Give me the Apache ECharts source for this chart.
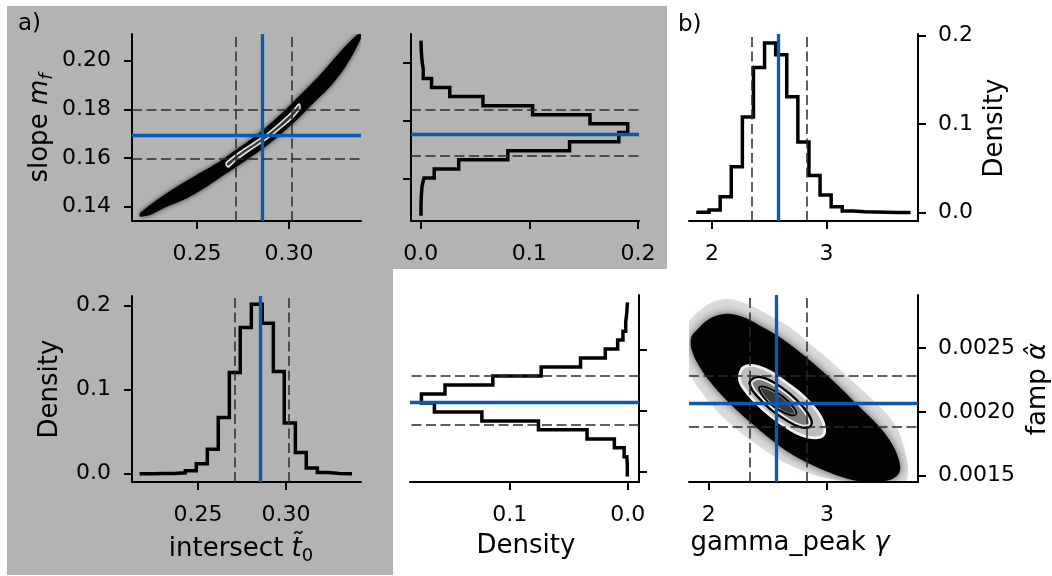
<!DOCTYPE html>
<html>
<head>
<meta charset="utf-8">
<script src="https://cdn.jsdelivr.net/npm/echarts@6/dist/echarts.min.js"></script>
<style>
  html, body { margin: 0; padding: 0; background: #fff; }
  #chart { width: 1052px; height: 576px; }
</style>
</head>
<body>
<div id="chart"></div>
<script>
// ---------- marginal histograms (bin edges and normalised bin weights) ----------
const intersectEdges = [0.2178, 0.2240, 0.2303, 0.2365, 0.2428, 0.2490, 0.2553, 0.2615, 0.2678, 0.2740,
                        0.2803, 0.2865, 0.2928, 0.2990, 0.3053, 0.3115, 0.3178, 0.3240, 0.3303, 0.3365];
const intersectDensity = [0.0001, 0.0002, 0.0004, 0.0012, 0.0036, 0.0119, 0.0292, 0.0668, 0.1202, 0.1735,
                          0.2012, 0.1787, 0.1213, 0.0601, 0.0253, 0.0067, 0.0016, 0.0004, 0.0001];

const slopeEdges = [0.1350, 0.1389, 0.1428, 0.1467, 0.1505, 0.1544, 0.1583, 0.1622, 0.1661, 0.1700,
                    0.1738, 0.1777, 0.1816, 0.1855, 0.1894, 0.1933, 0.1971, 0.2010, 0.2049, 0.2088];
const slopeDensity = [0.0003, 0.0006, 0.0012, 0.0030, 0.0125, 0.0350, 0.0802, 0.1370, 0.1823, 0.1905,
                      0.1558, 0.1030, 0.0573, 0.0268, 0.0100, 0.0024, 0.0012, 0.0006, 0.0003];

const gammaEdges = [1.8775, 1.9745, 2.0715, 2.1686, 2.2656, 2.3626, 2.4596, 2.5566, 2.6537, 2.7507,
                    2.8477, 2.9447, 3.0417, 3.1388, 3.2358, 3.3328, 3.4298, 3.5268, 3.6239, 3.7209];
const gammaDensity = [0.0004, 0.0030, 0.0180, 0.0520, 0.1080, 0.1640, 0.1917, 0.1785, 0.1310, 0.0800,
                      0.0420, 0.0200, 0.0068, 0.0019, 0.0010, 0.0007, 0.0005, 0.0003, 0.0002];

const fampEdges = [0.001477, 0.001551, 0.001624, 0.001698, 0.001771, 0.001845, 0.001918, 0.001992, 0.002065, 0.002139,
                   0.002212, 0.002286, 0.002359, 0.002433, 0.002506, 0.002580, 0.002653, 0.002727, 0.002800, 0.002874];
const fampDensity = [0.0003, 0.0007, 0.0030, 0.0113, 0.0345, 0.0757, 0.1237, 0.1640, 0.1750, 0.1550,
                     0.1144, 0.0734, 0.0400, 0.0190, 0.0085, 0.0040, 0.0017, 0.0008, 0.0003];

// ---------- reference values (solid) and 16th / 84th percentiles (dashed) ----------
const intersectTruth = 0.2854, intersectQuantiles = [0.2710, 0.3014];
const slopeTruth = 0.1693,     slopeQuantiles = [0.1599, 0.1797];
const gammaTruth = 2.575,      gammaQuantiles = [2.344, 2.826];
const fampTruth = 0.00207,     fampQuantiles = [0.001884, 0.002288];

// ---------- tick values ----------
const intersectTicks = [0.25, 0.30];
const slopeTicks = [0.14, 0.16, 0.18, 0.20];
const slopeHistTicks = [0.15, 0.175, 0.20];
const densityTicks = [0.0, 0.1, 0.2];
const fampDensityTicks = [0.0, 0.1];
const gammaTicks = [2, 3];
const fampTicks = [0.0015, 0.0020, 0.0025];

// ---------- 2-D posterior regions: sample cloud outlines and contour levels ----------
const bandOutline = [
  [0.2190, 0.1373], [0.2281, 0.1427], [0.2390, 0.1482], [0.2498, 0.1530], [0.2607, 0.1578],
  [0.2697, 0.1626], [0.2788, 0.1674], [0.2879, 0.1729], [0.2969, 0.1790], [0.3060, 0.1859],
  [0.3151, 0.1928], [0.3223, 0.1989], [0.3295, 0.2051], [0.3368, 0.2106], [0.3395, 0.2113],
  [0.3395, 0.2099], [0.3350, 0.2030], [0.3295, 0.1962], [0.3223, 0.1893], [0.3132, 0.1825],
  [0.3042, 0.1756], [0.2951, 0.1695], [0.2860, 0.1640], [0.2770, 0.1592], [0.2661, 0.1537],
  [0.2553, 0.1482], [0.2444, 0.1434], [0.2335, 0.1400], [0.2245, 0.1366], [0.2190, 0.1359]
];
const bandCore = [
  [0.26576, 0.15795], [0.27337, 0.16247], [0.28152, 0.16658], [0.28859, 0.17028], [0.29511, 0.17439],
  [0.30163, 0.17892], [0.30543, 0.18220], [0.30598, 0.18056], [0.30054, 0.17563], [0.29402, 0.17152],
  [0.28696, 0.16741], [0.27880, 0.16330], [0.27120, 0.15919], [0.26685, 0.15631]
];
const blobHalo = [
  [1.8394, 0.002719], [1.9803, 0.002836], [2.1494, 0.002889], [2.3184, 0.002849], [2.4875, 0.002771],
  [2.6847, 0.002666], [2.8538, 0.002536], [3.0228, 0.002405], [3.1919, 0.002262], [3.3610, 0.002118],
  [3.5018, 0.001987], [3.6004, 0.001857], [3.6568, 0.001700], [3.6850, 0.001543], [3.6568, 0.001452],
  [3.2764, 0.001446], [3.0792, 0.001465], [2.8538, 0.001517], [2.6283, 0.001608], [2.4311, 0.001726],
  [2.2479, 0.001857], [2.0789, 0.002000], [1.9380, 0.002157], [1.8253, 0.002327], [1.7830, 0.002510],
  [1.7887, 0.002640]
];
const blobOutline = [
  [1.896, 0.002640], [2.008, 0.002732], [2.150, 0.002771], [2.290, 0.002745], [2.431, 0.002679],
  [2.600, 0.002588], [2.769, 0.002470], [2.938, 0.002340], [3.107, 0.002196], [3.276, 0.002039],
  [3.418, 0.001909], [3.530, 0.001778], [3.600, 0.001647], [3.614, 0.001530], [3.530, 0.001465],
  [3.333, 0.001451], [3.164, 0.001478], [2.938, 0.001556], [2.713, 0.001661], [2.516, 0.001792],
  [2.347, 0.001922], [2.178, 0.002066], [2.036, 0.002209], [1.924, 0.002353], [1.854, 0.002497],
  [1.854, 0.002588]
];
const blobLevel1 = [
  [2.2395, 0.002248], [2.262, 0.002348], [2.3325, 0.002384], [2.431, 0.002374], [2.5438, 0.002327],
  [2.6847, 0.002235], [2.8256, 0.002131], [2.9383, 0.002013], [2.9946, 0.001909], [2.9946, 0.001817],
  [2.9242, 0.001778], [2.7974, 0.001791], [2.6564, 0.001857], [2.5156, 0.001948], [2.3888, 0.002053],
  [2.2902, 0.002157]
];
const blobLevel2 = [
  [2.3550, 0.002248], [2.431, 0.002275], [2.5438, 0.002235], [2.6847, 0.002144], [2.7974, 0.002039],
  [2.8678, 0.001935], [2.8537, 0.001883], [2.7692, 0.001883], [2.6564, 0.001935], [2.5156, 0.002026],
  [2.4029, 0.002131], [2.3522, 0.002201]
];
const blobLevel3 = [
  [2.431, 0.002196], [2.5156, 0.002183], [2.6283, 0.002118], [2.7128, 0.002039], [2.741, 0.001987],
  [2.6987, 0.001974], [2.6001, 0.002013], [2.5015, 0.002079], [2.4452, 0.002144]
];

// ---------- styling ----------
const FONT = 'DejaVu Sans';
const INK = '#000';
const BLUE = '#0a5aad';
const TICK_SIZE = 22;
const TITLE_SIZE = 26;
const DASH = { color: '#2b2b2b', width: 1.5, type: [10, 4.5] };
const SOLID_BLUE = { color: BLUE, width: 3.3, type: 'solid' };

const chart = echarts.init(document.getElementById('chart'), null, { renderer: 'canvas' });

function axis(o) {
  return {
    type: 'value',
    gridIndex: o.grid,
    min: o.min, max: o.max,
    inverse: !!o.inverse,
    position: o.position,
    axisLine: { show: true, onZero: false, lineStyle: { color: INK, width: 2 } },
    axisTick: { show: true, inside: false, length: 8, customValues: o.ticks, lineStyle: { color: INK, width: 2 } },
    axisLabel: {
      show: o.labels !== false, customValues: o.ticks, margin: o.margin || 22,
      color: INK, fontFamily: FONT, fontSize: TICK_SIZE,
      formatter: v => o.fmt(v)
    },
    splitLine: { show: false }
  };
}
const f0 = v => String(Math.round(v));
const f1 = v => v.toFixed(1);
const f2 = v => v.toFixed(2);
const f4 = v => v.toFixed(4);

// turns bin edges / weights into the outline of a step histogram
function stepOutline(edges, weights, sideways) {
  const pts = [];
  weights.forEach((w, i) => {
    [edges[i], edges[i + 1]].forEach(e => pts.push(sideways ? [w, e] : [e, w]));
  });
  return pts;
}

function histSeries(g, edges, weights, sideways) {
  return {
    type: 'line', xAxisIndex: g, yAxisIndex: g, z: 3,
    data: stepOutline(edges, weights, sideways),
    showSymbol: false, silent: true, animation: false,
    lineStyle: { color: INK, width: 3.5, join: 'miter', cap: 'square' }
  };
}

// vertical / horizontal reference lines spanning a whole panel
function guideSeries(g, dim, quantiles, truth) {
  const item = (v, style) => { const d = {}; d[dim] = v; d.lineStyle = style; return d; };
  return {
    type: 'line', xAxisIndex: g, yAxisIndex: g, z: 6, data: [], silent: true, animation: false,
    markLine: {
      symbol: 'none', silent: true, animation: false, precision: 12, label: { show: false },
      emphasis: { disabled: true },
      data: [item(quantiles[0], DASH), item(quantiles[1], DASH), item(truth, SOLID_BLUE)]
    }
  };
}

// filled regions drawn through the panel's own axes; a contour layer gets a
// light band just inside its black outline
function regionSeries(g, anchor, layers) {
  return {
    type: 'custom', xAxisIndex: g, yAxisIndex: g, z: 2, clip: true, silent: true, animation: false,
    data: [anchor],
    renderItem: (params, api) => {
      const children = [];
      layers.forEach(l => {
        const shape = { points: l.pts.map(p => api.coord(p)), smooth: l.smooth || 0 };
        if (l.contour) {
          children.push({
            type: 'polygon', shape: shape,
            style: { fill: l.contour.fill, stroke: l.contour.band, lineWidth: l.contour.bandWidth * 2 },
            clipPath: { type: 'polygon', shape: shape }
          });
          children.push({
            type: 'polygon', shape: shape,
            style: { fill: null, stroke: '#000', lineWidth: l.contour.lineWidth }
          });
        } else {
          children.push({ type: 'polygon', shape: shape, style: l.style });
        }
      });
      return { type: 'group', children: children };
    }
  };
}

// panel frames: 0 scatter t0-m, 1 hist m, 2 hist t0, 3 hist famp, 4 hist gamma, 5 scatter gamma-famp
const grids = [
  { left: 132, top: 34, width: 229, height: 187 },
  { left: 411, top: 34, width: 228, height: 187 },
  { left: 132, top: 296, width: 229, height: 186 },
  { left: 410, top: 295, width: 229, height: 187 },
  { left: 689, top: 34, width: 229, height: 187 },
  { left: 689, top: 295, width: 229, height: 187 }
].map(g => Object.assign({ outerBoundsMode: 'none', containLabel: false }, g));

const xAxes = [
  axis({ grid: 0, min: 0.2147, max: 0.3391, ticks: intersectTicks, fmt: f2, position: 'bottom' }),
  axis({ grid: 1, min: -0.0089, max: 0.2009, ticks: densityTicks, fmt: f1, position: 'bottom' }),
  axis({ grid: 2, min: 0.2125, max: 0.3426, ticks: intersectTicks, fmt: f2, position: 'bottom' }),
  axis({ grid: 3, min: -0.0096, max: 0.1847, ticks: fampDensityTicks, fmt: f1, position: 'bottom', inverse: true }),
  axis({ grid: 4, min: 1.799, max: 3.801, ticks: gammaTicks, fmt: f0, position: 'bottom' }),
  axis({ grid: 5, min: 1.834, max: 3.769, ticks: gammaTicks, fmt: f0, position: 'bottom' })
];
const yAxes = [
  axis({ grid: 0, min: 0.1341, max: 0.2110, ticks: slopeTicks, fmt: f2, position: 'left', margin: 21 }),
  axis({ grid: 1, min: 0.1320, max: 0.2124, ticks: slopeHistTicks, fmt: f2, position: 'left', labels: false }),
  axis({ grid: 2, min: -0.0098, max: 0.2110, ticks: densityTicks, fmt: f1, position: 'left', margin: 21 }),
  axis({ grid: 3, min: 0.001418, max: 0.002949, ticks: fampTicks, fmt: f4, position: 'right', labels: false }),
  axis({ grid: 4, min: -0.0094, max: 0.2019, ticks: densityTicks, fmt: f1, position: 'right', margin: 20 }),
  axis({ grid: 5, min: 0.00145, max: 0.002918, ticks: fampTicks, fmt: f4, position: 'right', margin: 20 })
];

const series = [
  // slope vs intersect: narrow curved sample band with its core contour
  regionSeries(0, [intersectTruth, slopeTruth], [
    { pts: bandOutline, smooth: 0.2, style: { fill: 'rgba(0,0,0,0.96)', shadowBlur: 5, shadowColor: 'rgba(0,0,0,0.7)' } },
    { pts: bandCore, smooth: 0.2, style: { fill: '#3a3a3a', stroke: '#e6e6e6', lineWidth: 1.6 } }
  ]),
  guideSeries(0, 'xAxis', intersectQuantiles, intersectTruth),
  guideSeries(0, 'yAxis', slopeQuantiles, slopeTruth),

  histSeries(1, slopeEdges, slopeDensity, true),
  guideSeries(1, 'yAxis', slopeQuantiles, slopeTruth),

  histSeries(2, intersectEdges, intersectDensity, false),
  guideSeries(2, 'xAxis', intersectQuantiles, intersectTruth),

  histSeries(3, fampEdges, fampDensity, true),
  guideSeries(3, 'yAxis', fampQuantiles, fampTruth),

  histSeries(4, gammaEdges, gammaDensity, false),
  guideSeries(4, 'xAxis', gammaQuantiles, gammaTruth),

  // famp vs gamma: elliptical sample cloud with three contour levels
  regionSeries(5, [gammaTruth, fampTruth], [
    { pts: blobHalo, smooth: 0.35, style: { fill: 'rgba(0,0,0,0.13)', shadowBlur: 12, shadowColor: 'rgba(0,0,0,0.2)' } },
    { pts: blobOutline, smooth: 0.35, style: { fill: 'rgba(0,0,0,0.97)', shadowBlur: 9, shadowColor: 'rgba(0,0,0,0.6)' } },
    { pts: blobLevel1, smooth: 0.4, contour: { fill: '#bdbdbd', band: '#f2f2f2', bandWidth: 4, lineWidth: 2.5 } },
    { pts: blobLevel2, smooth: 0.4, contour: { fill: '#7e7e7e', band: '#f2f2f2', bandWidth: 3, lineWidth: 2.5 } },
    { pts: blobLevel3, smooth: 0.4, contour: { fill: '#3a3a3a', band: '#dcdcdc', bandWidth: 1.5, lineWidth: 2 } }
  ]),
  guideSeries(5, 'xAxis', gammaQuantiles, gammaTruth),
  guideSeries(5, 'yAxis', fampQuantiles, fampTruth)
];

// axis titles with mathematical symbols
const R = {
  n: { fontFamily: FONT, fontSize: TITLE_SIZE, fill: INK, lineHeight: 32 },
  i: { fontFamily: FONT, fontSize: TITLE_SIZE, fontStyle: 'italic', fill: INK, lineHeight: 32 },
  s: { fontFamily: FONT, fontSize: 18, fontStyle: 'italic', fill: INK, verticalAlign: 'bottom', lineHeight: 19 },
  d: { fontFamily: FONT, fontSize: 18, fill: INK, verticalAlign: 'bottom', lineHeight: 19 }
};
function label(text, x, y, rotate) {
  return {
    type: 'text', x: x, y: y, rotation: rotate ? Math.PI / 2 : 0, z: 10, silent: true,
    style: { text: text, rich: R, align: 'center', verticalAlign: 'middle', fill: INK, font: TITLE_SIZE + 'px "DejaVu Sans"' }
  };
}

const graphic = [
  // shaded background behind the first block of panels
  {
    type: 'polygon', z: -100, silent: true,
    shape: { points: [[7, 6], [667, 6], [667, 269], [393, 269], [393, 575], [7, 575]] },
    style: { fill: '#b3b3b3' }
  },
  label('{n|slope }{i|m}{s|f}', 40, 128, true),
  label('{n|Density}', 50, 389, true),
  label('{n|intersect }{i|t\u0303}{d|0}', 241, 549, false),
  label('{n|Density}', 526, 546, false),
  label('{n|gamma_peak }{i|\u03b3}', 790, 543, false),
  label('{n|Density}', 995, 128, true),
  label('{n|famp }{i|\u03b1\u0302}', 1038, 389, true),
  { type: 'text', x: 18, y: 24, z: 10, silent: true,
    style: { text: 'a)', font: '23px "DejaVu Sans"', fill: INK, verticalAlign: 'middle' } },
  { type: 'text', x: 678, y: 25, z: 10, silent: true,
    style: { text: 'b)', font: '23px "DejaVu Sans"', fill: INK, verticalAlign: 'middle' } }
];

chart.setOption({
  animation: false,
  backgroundColor: '#ffffff',
  grid: grids,
  xAxis: xAxes,
  yAxis: yAxes,
  series: series,
  graphic: graphic
});
</script>
</body>
</html>
